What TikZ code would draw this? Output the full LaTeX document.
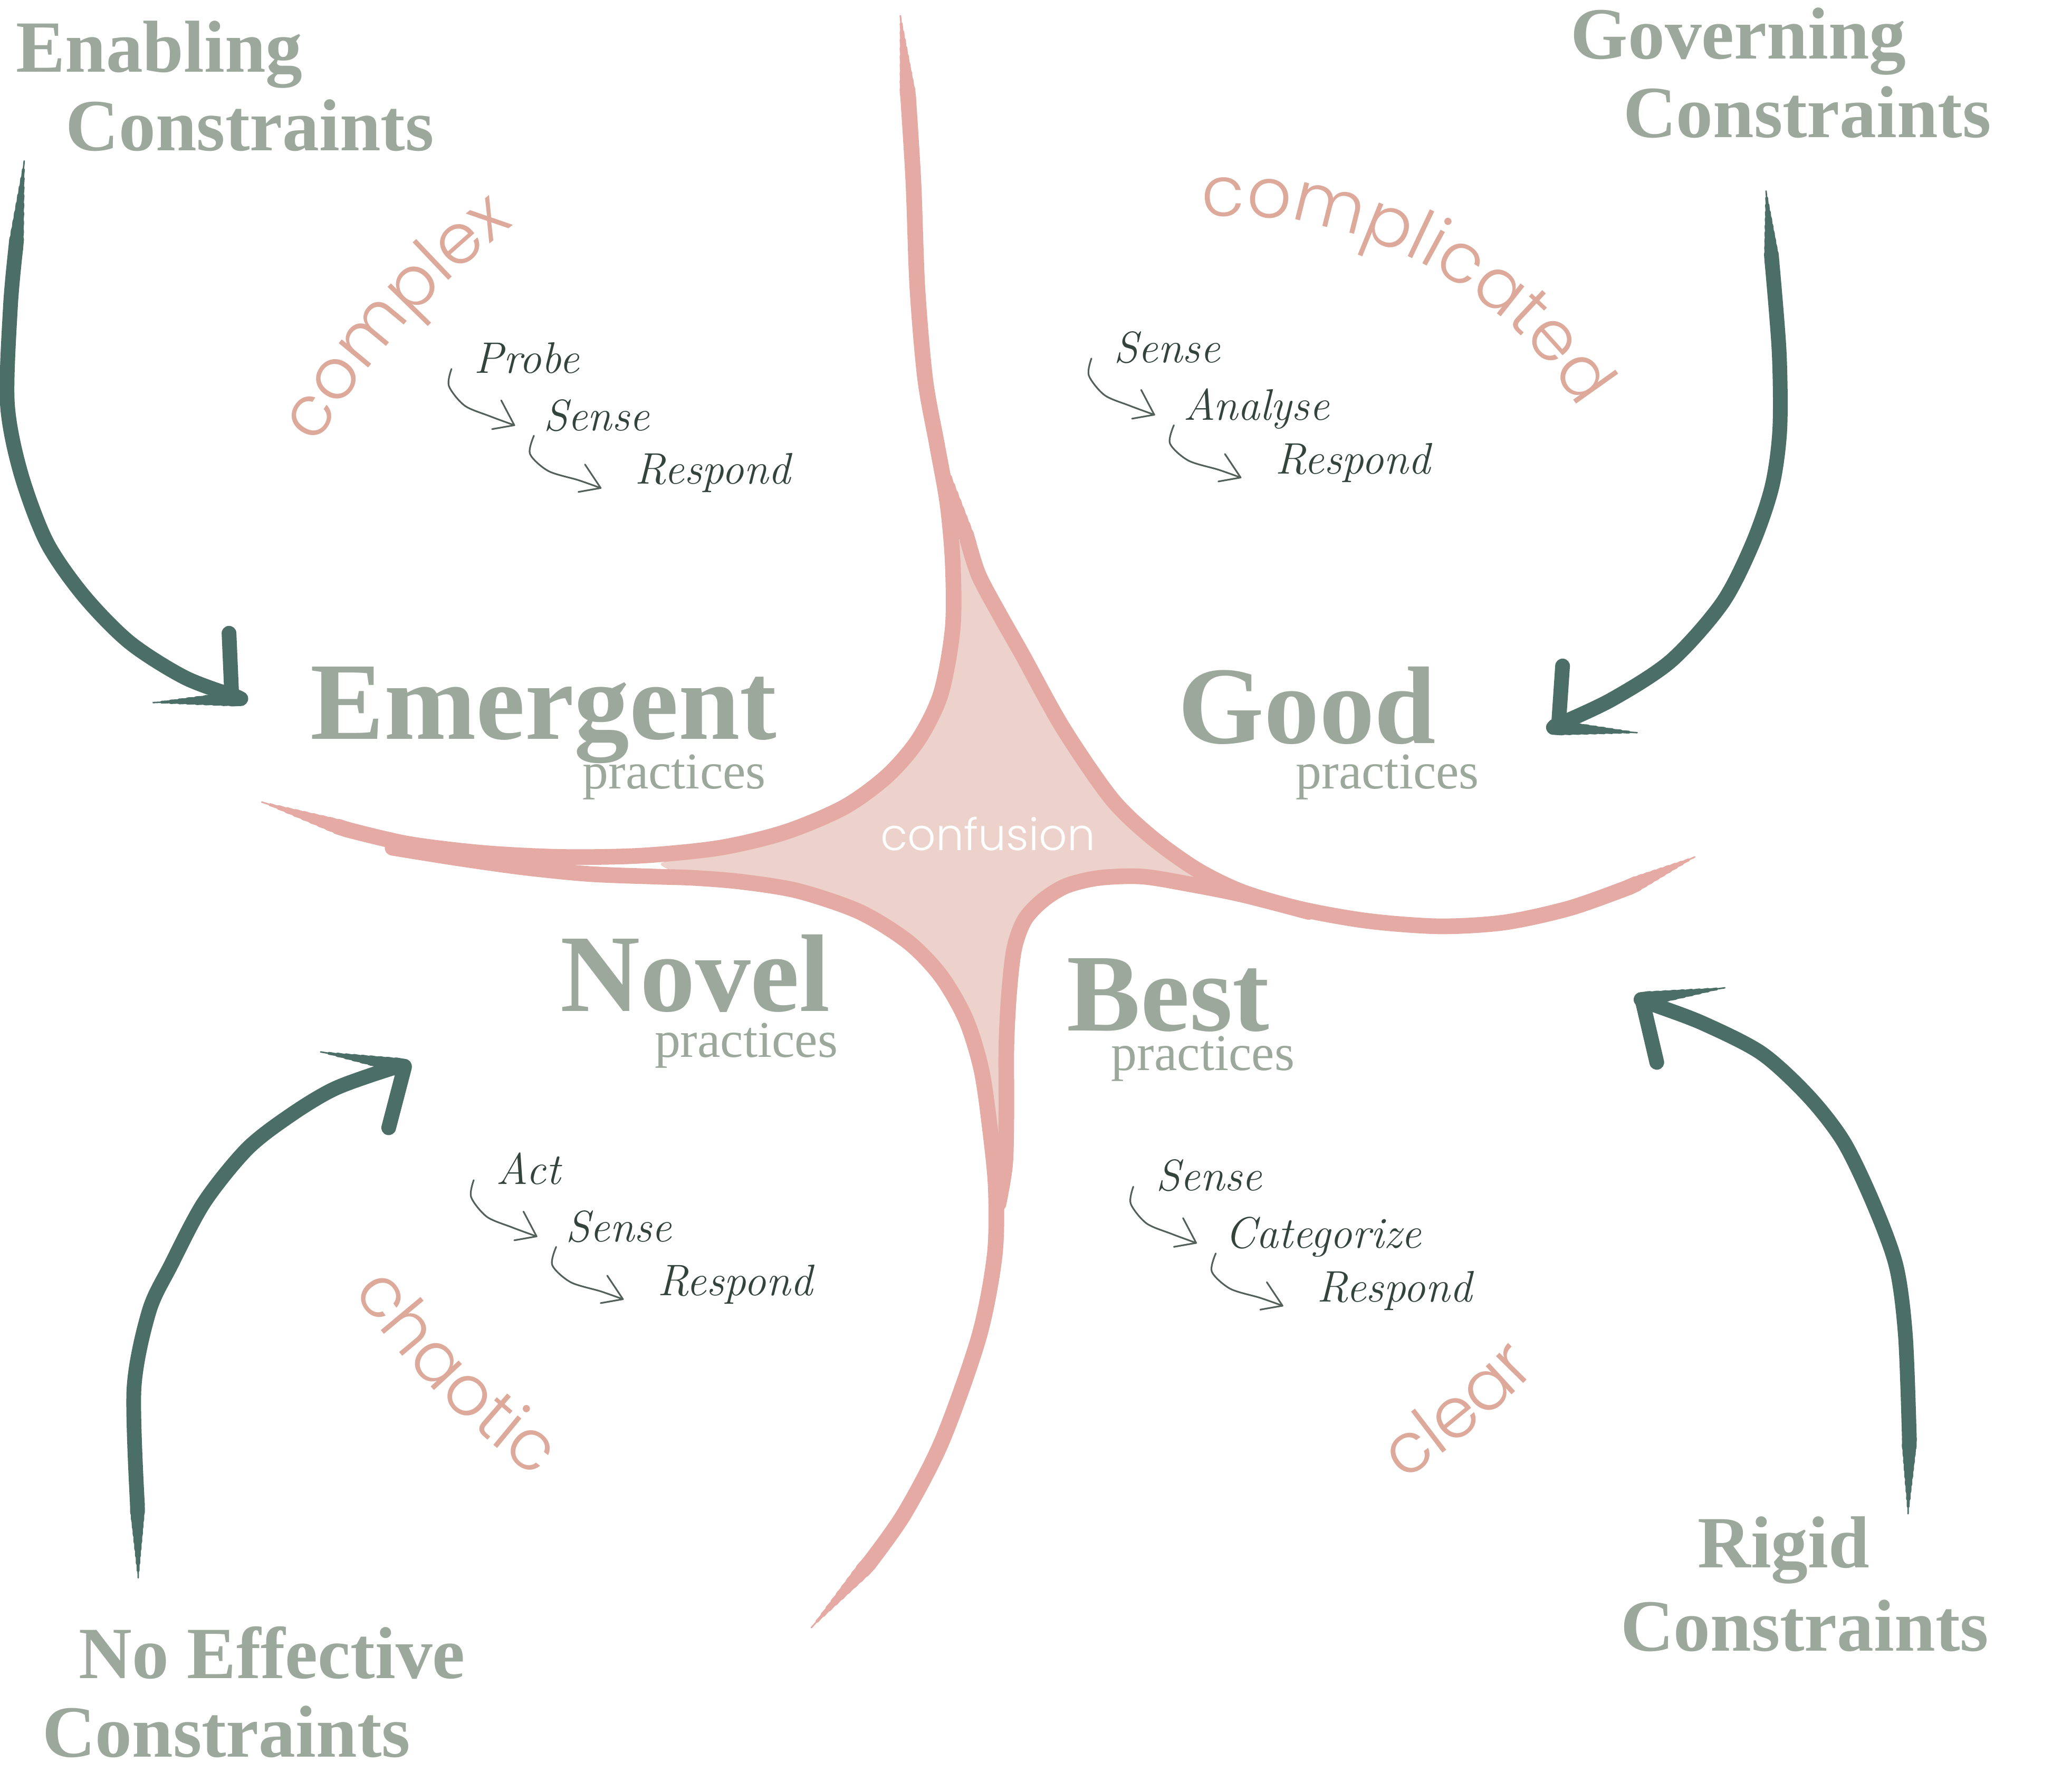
\documentclass[tikz,border=0pt]{standalone}
\usepackage{fontspec}
\usetikzlibrary{calc,decorations.text}
\newfontfamily\headfont{Liberation Serif}
\IfFontExistsTF{Poppins Light}{\newfontfamily\thinfont{Poppins Light}}{\newfontfamily\thinfont{Poppins}}
\definecolor{sage}{HTML}{9BA89B}
\definecolor{arrowc}{HTML}{4B6E66}
\definecolor{pinkline}{HTML}{E6AAA4}
\definecolor{pinkfill}{HTML}{ECD2CB}
\definecolor{salmon}{HTML}{DDA99A}
\definecolor{ink}{HTML}{33443C}
\tikzset{
  pinkstroke/.style={draw=pinkline, line width=8.5pt, line cap=round, line join=round},
  bigarrow/.style={draw=arrowc, line width=8pt, line cap=round, line join=round},
  smallarr/.style={draw=ink!85, line width=0.9pt, line cap=round, line join=round},
  headtxt/.style={font=\headfont\bfseries\fontsize{60}{60}\selectfont, text=sage, inner sep=0pt, anchor=base west},
  praclbl/.style={font=\headfont\fontsize{28}{28}\selectfont, text=sage, inner sep=0pt, anchor=base west},
  conlbl/.style={font=\headfont\bfseries\fontsize{40}{40}\selectfont, text=sage, inner sep=0pt, anchor=base west},
  handtxt/.style={font=\itshape\fontsize{24}{24}\selectfont, text=ink, inner sep=0pt, anchor=base west}
}
\newcommand\taper[4]{%
  \foreach \k in {1,...,10}{%
    \draw[#1, line cap=round, line width={\k*#4pt/10}] ($(#2)!{(\k-1)/10}!(#3)$) -- (#3);
  }}
\newcommand\csteps[6]{%
  \begin{scope}[shift={(#1,#2)}]
    \node[handtxt] (#3a) at (17,3) {#4};
    \node[handtxt] (#3b) at (70,47) {#5};
    \node[handtxt] (#3c) at (140,88) {#6};
    \draw[smallarr] plot[smooth] coordinates {(0,0) (-2,13) (10,28) (29,36) (48,43)};
    \draw[smallarr] (38,24) -- (48,43) -- (31,46);
    \draw[smallarr] plot[smooth] coordinates {(63,51) (60,65) (74,78) (97,85) (114,91)};
    \draw[smallarr] (102,73) -- (114,91) -- (97,94);
  \end{scope}}
\newcommand\arclabel[6]{%
  \path[decorate, decoration={text along path, text align=center, text color=salmon,
     text={|\thinfont\fontsize{38}{38}\selectfont|#1}}]
     plot[variable=\t, domain=0:1, samples=60] ({#2+#4*cos(#5+(#6-#5)*\t)}, {#3-#4*sin(#5+(#6-#5)*\t)});}
\begin{document}
\begin{tikzpicture}[x=0.025cm, y=-0.025cm]
\useasboundingbox (0,0) rectangle (1568,1369.3);
\fill[white] (0,0) rectangle (1568,1369.3);

% confusion fill
\fill[pinkfill] plot[smooth cycle, tension=0.4] coordinates {
  (736,400) (730,440) (728,480) (719,530) (702,565) (678,593) (645,617) (600,636) (550,648) (505,660)
  (530,671) (567,674) (610,681) (657,697) (694,720) (719,746) (738,779) (750,818) (757,867) (764,912)
  (768,870) (769,820) (770,770) (775,725) (783,703) (797,688) (815,677) (840,671) (873,670) (910,676) (945,684)
  (915,665) (880,640) (849,610) (812,556) (781,500) (764,470) (748,440)};

% pink lines
\taper{pinkline}{688,12}{694,75}{8.5}
\draw[pinkstroke] plot[smooth] coordinates {(694,75) (698,140) (701,220) (707,290) (716,340) (724,385) (728,430) (728,480) (719,530) (702,565) (678,593) (645,617) (600,636) (550,648) (490,654) (430,655) (370,652) (312,645) (265,634)};
\taper{pinkline}{200,613}{265,634}{8.5}

\taper{pinkline}{722,352}{740,415}{8.5}
\draw[pinkstroke] plot[smooth] coordinates {(740,415) (748,440) (764,470) (781,500) (812,556) (849,610) (880,640) (915,665) (950,682) (995,695) (1046,704) (1100,708) (1150,705) (1200,694) (1245,678)};
\taper{pinkline}{1295,655}{1245,678}{8.5}

\draw[pinkstroke] plot[smooth] coordinates {(1000,697) (950,684) (910,676) (873,670) (840,671) (815,677) (797,688) (783,703) (775,725) (771,760) (769,800) (769,850) (768,890) (763,920)};

\draw[pinkstroke] plot[smooth] coordinates {(300,648) (350,656) (400,663) (450,668) (500,670) (530,671) (567,674) (610,681) (657,697) (694,720) (719,746) (738,779) (750,818) (757,867) (761,910) (760,960) (748,1022) (720,1101) (691,1157) (664,1195)};
\taper{pinkline}{620,1244}{664,1195}{8.5}

\node[font=\thinfont\fontsize{24}{24}\selectfont, text=white, inner sep=0pt, anchor=base] (conf) at (755,650) {confusion};

% big arrows
\taper{arrowc}{18.5,123}{12,190}{8}
\draw[bigarrow] plot[smooth] coordinates {(12,190) (8,234) (5.6,308) (15.7,361) (35.5,414) (63.7,455) (99,491) (141.5,518) (182,533)};
\taper{arrowc}{117,537}{184,534}{8}
\draw[bigarrow] (175,484) -- (177,530);

\taper{arrowc}{1349.5,146}{1354,200}{8}
\draw[bigarrow] plot[smooth] coordinates {(1354,200) (1359.5,269) (1360,328) (1354,372) (1339,416) (1316,461) (1277,505) (1231,535) (1188,555)};
\taper{arrowc}{1251,560}{1187,556}{8}
\draw[bigarrow] (1194,509) -- (1191,553);

\taper{arrowc}{105.6,1206}{105,1150}{8}
\draw[bigarrow] plot[smooth] coordinates {(105,1150) (102.4,1061) (114,1002) (130.6,967) (156,919) (189,878) (222.5,852) (256,832) (298,817) (309,815)};
\taper{arrowc}{245,804}{309,815}{8}
\draw[bigarrow] (309,816) -- (297,862);

\taper{arrowc}{1458,1157}{1459,1100}{8}
\draw[bigarrow] plot[smooth] coordinates {(1459,1100) (1456,1021) (1449,968) (1432,921) (1409,873) (1382,838) (1346,805) (1301,782) (1264,768) (1254,764)};
\taper{arrowc}{1318,755}{1254,764}{8}
\draw[bigarrow] (1255,765) -- (1266,812);

% constraint labels
\node[conlbl] (en1) at (12,55) {Enabling};
\node[conlbl] (en2) at (50,115) {Constraints};
\node[conlbl] (gv1) at (1200,45) {Governing};
\node[conlbl] (gv2) at (1240,105) {Constraints};
\node[conlbl] (ne1) at (60,1283) {No Effective};
\node[conlbl] (ne2) at (32,1343) {Constraints};
\node[conlbl] (rg1) at (1297,1198) {Rigid};
\node[conlbl] (rg2) at (1238,1262) {Constraints};

% headings
\node[headtxt] (em) at (237,565) {Emergent};
\node[praclbl] (emp) at (445,603) {practices};
\node[headtxt] (gd) at (900,568) {Good};
\node[praclbl] (gdp) at (990,603) {practices};
\node[headtxt] (nv) at (428,773) {Novel};
\node[praclbl] (nvp) at (500,808) {practices};
\node[headtxt] (bs) at (815,788) {Best};
\node[praclbl] (bsp) at (849,818) {practices};

% domain labels on arcs
\arclabel{complex}{755}{650}{600}{160}{116}
\arclabel{complicated}{940}{480}{315}{111}{15}
\arclabel{chaotic}{755}{650}{591}{202}{247}
\arclabel{clear}{755}{650}{577}{290}{330}

% practice steps
\csteps{345}{282}{qa}{Probe}{Sense}{Respond}
\csteps{834}{274}{qb}{Sense}{Analyse}{Respond}
\csteps{362}{902}{qc}{Act}{Sense}{Respond}
\csteps{866}{907}{qd}{Sense}{Categorize}{Respond}
\end{tikzpicture}
\end{document}
